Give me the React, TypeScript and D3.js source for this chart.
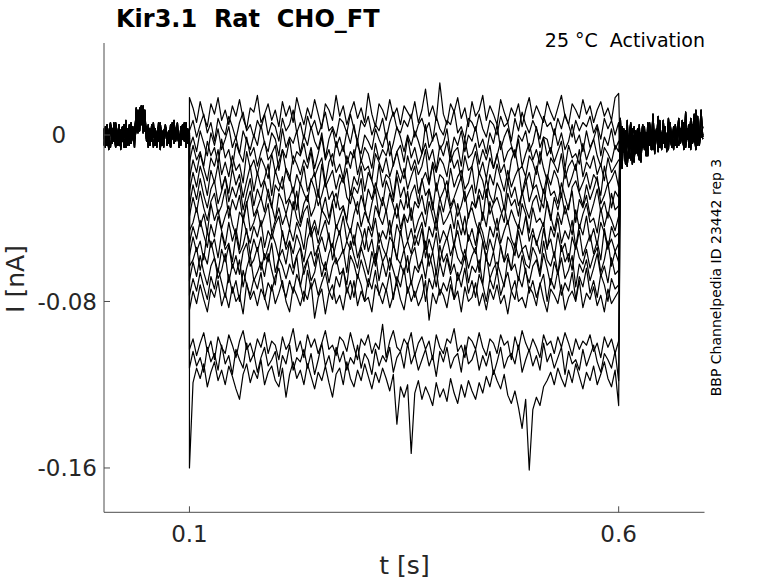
import * as d3 from "d3";

// protocol windows, seconds
const preWindow = [0, 0.1];
const stepWindow = [0.1, 0.6];
const postWindow = [0.602, 0.698];

// holding current before the step (pA), includes the small test pulse
const pre1 = [-2, 4, -5, 1, 6, -3, 2, -6, 0, 5, -4, 3, -1, 7, -5, 2, -2, 4, -6, 13, 3, 12, 5, 14, 2, 1, -4, 3, -2, 6, -5, 0, 4, -7, 2, -1, 5, -3, 1, -6, 3, 7, -2, 0, -5, 4, 1, -3, 6, -4, 0];
const pre2 = [3, -4, 1, -7, 5, 0, -3, 6, -1, -5, 2, 4, -6, 1, -2, 5, -4, 0, 3, 4, 11, 2, 14, 6, 12, -3, 2, -5, 5, -1, 3, -6, 1, 6, -3, -1, 4, -5, 2, -2, 6, -4, 0, 3, -6, 2, 5, -1, -4, 3, -1];
const pre3 = [-5, 1, 5, -2, -6, 3, 0, 4, -4, 2, -7, 1, 5, -3, 0, -5, 6, -1, 2, 10, 1, 13, 6, 11, 3, 4, -6, 0, -3, 4, 2, -5, 6, -2, 0, -6, 3, 1, -4, 5, -1, -3, 2, 6, -5, 1, -2, 4, -6, 2, 1];
const pre4 = [1, -6, 3, -2, 4, -4, 6, -1, -5, 2, 0, -3, 5, -6, 3, 1, -4, 2, -2, 2, 12, 7, 14, 1, 10, -2, 5, -4, 1, -6, 3, 0, -3, 5, -5, 2, 4, -2, 0, -6, 1, 5, -3, 3, -1, -5, 2, 6, -2, 1, -3];

// tail current after the step (pA)
const post1 = [-12, 4, -8, 2, -15, -3, 6, -10, 0, -6, 3, -11, -2, 5, -7, 1, -9, 4, -4, 10, -6, 2, -3, 5, -7, 0, 3, -5, 8, -2, -6, 4, -1, -4, 6, -3, 1, -7, 11, -2, 3, -5, 5, -1, -4, 9, -3, 2, -2];
const post2 = [-17, -5, 3, -13, -1, -9, 5, -14, -4, 2, -8, -12, 1, -6, 4, -10, -3, 6, -7, 0, -5, 3, -8, 2, -4, 7, -6, -1, 4, -3, 1, -7, 5, -2, -5, 3, -1, 6, -6, 2, -3, 8, -4, 0, -7, 4, -2, 12, -1];
const post3 = [-6, -16, 1, -9, 7, -11, -4, 3, -13, 0, -7, 5, -10, -2, 2, -8, 6, -5, -1, 4, -9, 1, -3, 7, -6, 2, -4, 0, -7, 5, -3, 3, -5, 1, 8, -4, 0, -6, 3, -2, 5, -7, 1, 10, -3, 4, -5, 2, 0];
const post4 = [8, -10, -4, -14, 2, -7, -12, 0, 4, -9, -5, 1, -13, 3, -6, -2, -10, 5, -4, -7, 2, -2, 9, -6, 1, -4, 4, -8, 0, 6, -5, 2, -3, -6, 4, -1, 7, -4, -2, 3, -6, 1, 5, -3, 12, -5, 3, -1, 4];

// current during the activation step (pA), one array per sweep
const sweep01 = [18, 13, 6, 16, 9, 4, 15, 10, 18, 7, 12, 5, 14, 9, 17, 8, 3, 13, 11, 19, 6, 10, 15, 7, 12, 4, 16, 9, 14, 6, 18, 11, 5, 13, 8, 17, 10, 3, 15, 12, 7, 19, 9, 14, 5, 11, 16, 8, 13, 6, 20, 10, 4, 15, 12, 7, 17, 9, 13, 5, 14, 11, 8, 16, 6, 12, 22, 9, 14, 7, 25, 10, 5, 15, 11, 18, 8, 13, 4, 16, 9, 12, 19, 7, 14, 10, 5, 17, 11, 6, 13, 9, 15, 4, 12, 18, 8, 14, 10, 6, 16, 11, 7, 13, 19, 9, 5, 15, 12, 8, 17, 10, 14, 6, 12, 16, 9, 13, 7, 18, 20];
const sweep02 = [2, 7, -1, 5, 10, 1, 6, -3, 8, 3, 0, 9, 4, -2, 6, 11, 2, 5, -1, 7, 3, 10, 0, 6, 4, -3, 8, 2, 5, 12, 1, 6, -2, 9, 3, 7, 0, 5, 11, 2, 4, -1, 8, 6, 1, 10, 3, -3, 7, 4, 9, 0, 5, 2, 8, -2, 6, 11, 3, 1, 7, 4, 10, -1, 5, 8, 2, 6, -3, 9, 3, 0, 7, 5, 12, 1, 4, -2, 8, 6, 2, 10, 3, -1, 7, 5, 0, 9, 4, 6, -3, 8, 2, 11, 5, 1, 7, 3, -2, 9, 4, 6, 0, 8, 3, 10, 5, -1, 7, 2, 6, 4, 9, 1, 5, -2, 8, 3, 7, 0, 6];
const sweep03 = [-6, -1, -8, 2, -4, -10, 1, -5, 3, -7, -2, 4, -6, -1, -9, 2, -3, -7, 0, -5, 5, -4, -8, 1, -2, -10, 3, -6, -1, -4, 2, -9, 0, -5, 4, -3, -7, 1, -11, -2, 3, -6, -1, -8, 2, -4, 5, -5, -9, 0, -3, -7, 3, -2, -6, 1, -10, -4, 4, -1, -8, 0, -5, 2, -3, -9, 5, -6, -2, 1, -7, -4, 3, -10, -1, -5, 2, -8, 0, -3, 4, -6, -2, -9, 1, -4, 5, -7, -1, 3, -5, -10, 0, -3, 2, -8, -4, 4, -6, -1, -2, -9, 3, -5, 1, -7, -3, 5, -4, 0, -8, 2, -6, -2, 4, -10, -1, -5, 3, -7, -3];
const sweep04 = [-13, -5, -12, -8, -15, -3, -10, -6, -14, -2, -11, -7, -16, -4, -9, -13, -1, -10, -6, -15, -8, -3, -12, -9, -5, -17, -7, -11, -2, -14, -8, -10, -4, -13, -6, -16, -9, -1, -12, -7, -15, -3, -10, -5, -14, -8, -11, -2, -13, -6, -9, -16, -4, -12, -7, -10, -3, -15, -8, -5, -13, -1, -11, -6, -14, -9, -4, -12, -7, -17, -5, -10, -3, -13, -8, -6, -15, -2, -11, -9, -4, -14, -7, -12, -5, -16, -10, -3, -13, -8, -6, -11, -2, -15, -9, -4, -12, -7, -14, -1, -10, -6, -13, -8, -3, -16, -5, -11, -9, -14, -4, -12, -7, -2, -10, -15, -6, -9, -13, -5, -8];
const sweep05 = [-21, -12, -18, -9, -16, -22, -11, -15, -7, -19, -13, -20, -10, -17, -14, -23, -8, -16, -12, -19, -11, -15, -21, -9, -18, -13, -7, -17, -22, -10, -14, -19, -12, -16, -8, -20, -15, -11, -23, -13, -9, -18, -14, -21, -10, -16, -7, -19, -12, -17, -15, -22, -9, -13, -18, -11, -20, -14, -8, -16, -21, -10, -17, -12, -19, -15, -7, -23, -13, -18, -11, -14, -20, -9, -16, -12, -22, -10, -17, -15, -8, -19, -13, -21, -11, -16, -9, -18, -14, -23, -12, -7, -17, -15, -20, -10, -13, -19, -8, -16, -22, -11, -14, -18, -9, -21, -15, -12, -17, -7, -20, -13, -16, -10, -19, -14, -22, -11, -18, -15, -12];
const sweep06 = [-27, -18, -25, -15, -21, -29, -17, -23, -14, -26, -20, -28, -16, -24, -19, -30, -22, -15, -27, -18, -25, -21, -14, -29, -17, -23, -26, -16, -20, -28, -19, -24, -15, -27, -22, -18, -30, -14, -25, -21, -17, -26, -19, -23, -16, -29, -20, -24, -15, -27, -18, -22, -28, -14, -25, -19, -21, -30, -17, -23, -16, -26, -20, -15, -28, -22, -18, -24, -14, -27, -19, -21, -29, -16, -25, -20, -17, -26, -23, -15, -28, -18, -22, -30, -19, -24, -14, -21, -27, -17, -25, -20, -16, -29, -23, -18, -26, -15, -22, -28, -19, -24, -17, -21, -30, -16, -25, -20, -14, -27, -23, -18, -26, -19, -22, -29, -15, -24, -21, -17, -25];
const sweep07 = [-34, -24, -31, -21, -29, -35, -26, -22, -33, -27, -20, -32, -25, -30, -23, -36, -28, -21, -34, -26, -31, -22, -29, -35, -24, -27, -20, -33, -30, -25, -36, -23, -28, -32, -21, -26, -34, -29, -22, -31, -27, -35, -24, -20, -30, -33, -25, -28, -21, -36, -26, -31, -23, -29, -34, -22, -27, -32, -20, -30, -25, -35, -28, -24, -33, -21, -29, -26, -36, -23, -31, -27, -22, -34, -30, -25, -20, -32, -28, -24, -35, -26, -31, -21, -29, -33, -23, -27, -36, -22, -30, -25, -34, -28, -20, -32, -26, -24, -31, -35, -21, -29, -27, -33, -23, -30, -36, -25, -22, -28, -34, -24, -31, -26, -20, -33, -29, -23, -35, -27, -30];
const sweep08 = [-39, -30, -37, -27, -35, -41, -32, -28, -38, -34, -26, -40, -31, -36, -29, -42, -33, -27, -39, -35, -30, -37, -26, -34, -41, -28, -32, -38, -31, -36, -27, -42, -33, -29, -39, -35, -26, -37, -30, -40, -32, -28, -36, -34, -41, -27, -31, -38, -29, -35, -42, -33, -26, -39, -30, -37, -28, -34, -40, -31, -36, -27, -41, -32, -35, -29, -38, -26, -33, -42, -30, -37, -28, -36, -31, -39, -34, -27, -40, -32, -35, -29, -41, -26, -38, -33, -30, -36, -42, -28, -34, -31, -39, -27, -35, -40, -32, -29, -37, -26, -33, -41, -30, -36, -28, -38, -34, -27, -42, -31, -35, -29, -39, -33, -26, -37, -32, -40, -28, -36, -34];
const sweep09 = [-46, -42, -35, -44, -38, -47, -33, -41, -36, -45, -39, -34, -43, -48, -37, -40, -32, -46, -42, -36, -44, -39, -33, -47, -41, -35, -43, -38, -45, -32, -40, -44, -37, -34, -46, -41, -48, -36, -39, -43, -33, -45, -40, -35, -42, -47, -38, -32, -44, -37, -41, -46, -34, -39, -43, -36, -48, -40, -33, -45, -38, -42, -35, -47, -41, -37, -44, -32, -39, -46, -34, -43, -40, -36, -45, -33, -41, -48, -38, -35, -42, -47, -37, -44, -32, -40, -46, -39, -34, -43, -36, -41, -45, -33, -38, -47, -35, -42, -40, -44, -32, -39, -46, -37, -43, -34, -41, -48, -36, -45, -38, -33, -42, -40, -47, -35, -44, -37, -41, -46, -39];
const sweep10 = [-52, -44, -50, -41, -48, -54, -43, -49, -39, -46, -53, -42, -51, -45, -55, -40, -47, -52, -44, -49, -41, -54, -46, -50, -43, -39, -48, -53, -45, -51, -42, -47, -55, -40, -49, -44, -52, -46, -41, -50, -54, -43, -48, -39, -51, -45, -53, -42, -47, -55, -44, -49, -40, -52, -46, -50, -41, -54, -43, -48, -39, -51, -45, -53, -47, -42, -55, -44, -49, -40, -52, -46, -50, -43, -54, -41, -48, -39, -51, -45, -53, -42, -47, -55, -44, -49, -40, -52, -46, -41, -50, -54, -43, -48, -39, -51, -45, -53, -47, -42, -55, -44, -49, -40, -52, -46, -50, -41, -54, -43, -48, -39, -51, -45, -53, -42, -47, -55, -44, -49, -47];
const sweep11 = [-58, -49, -56, -51, -60, -46, -54, -50, -59, -47, -55, -52, -61, -48, -57, -53, -45, -58, -50, -56, -49, -60, -54, -47, -52, -59, -46, -55, -51, -57, -48, -53, -61, -50, -45, -58, -54, -49, -56, -47, -60, -52, -46, -57, -51, -55, -48, -59, -53, -45, -56, -50, -61, -47, -54, -58, -49, -52, -60, -46, -55, -51, -57, -48, -53, -45, -59, -50, -56, -47, -61, -54, -49, -58, -52, -46, -55, -60, -48, -53, -57, -45, -51, -59, -50, -56, -47, -54, -61, -49, -52, -58, -46, -55, -53, -60, -48, -51, -57, -45, -54, -50, -59, -47, -56, -52, -61, -49, -55, -46, -58, -53, -48, -57, -51, -60, -45, -54, -50, -56, -52];
const sweep12 = [-63, -60, -54, -65, -57, -62, -51, -59, -66, -55, -61, -53, -64, -58, -67, -56, -52, -63, -60, -54, -65, -57, -61, -52, -66, -59, -55, -62, -51, -64, -58, -54, -67, -60, -56, -63, -53, -61, -65, -57, -52, -62, -59, -55, -66, -51, -58, -64, -54, -60, -67, -56, -63, -53, -61, -57, -65, -52, -59, -62, -55, -66, -58, -54, -64, -60, -51, -63, -56, -67, -53, -61, -57, -65, -52, -59, -62, -55, -64, -58, -54, -66, -51, -60, -63, -56, -67, -53, -61, -57, -65, -52, -59, -55, -62, -64, -54, -58, -66, -51, -60, -63, -56, -67, -53, -61, -57, -65, -52, -59, -62, -55, -64, -58, -54, -66, -60, -51, -63, -56, -61];
const sweep13 = [-70, -61, -68, -58, -66, -72, -63, -59, -69, -65, -57, -71, -62, -67, -60, -73, -64, -58, -70, -66, -61, -68, -57, -65, -72, -59, -63, -69, -62, -67, -58, -73, -64, -60, -70, -66, -57, -68, -61, -71, -63, -59, -67, -65, -72, -58, -62, -69, -60, -66, -73, -64, -57, -70, -61, -68, -59, -65, -71, -62, -67, -58, -72, -63, -66, -60, -69, -57, -64, -73, -61, -68, -59, -67, -62, -70, -65, -58, -71, -63, -66, -60, -72, -57, -69, -64, -61, -67, -73, -59, -65, -62, -70, -58, -66, -71, -63, -60, -68, -57, -64, -72, -61, -67, -59, -69, -65, -58, -73, -62, -66, -60, -70, -64, -57, -68, -63, -71, -59, -67, -65];
const sweep14 = [-77, -69, -75, -66, -73, -79, -68, -74, -64, -71, -78, -67, -76, -70, -80, -65, -72, -77, -69, -74, -66, -79, -71, -75, -68, -64, -73, -78, -70, -76, -67, -72, -80, -65, -74, -69, -77, -71, -66, -75, -79, -68, -73, -64, -76, -70, -78, -67, -72, -80, -69, -74, -65, -77, -71, -75, -66, -79, -68, -73, -64, -76, -70, -78, -72, -67, -80, -69, -74, -65, -77, -71, -75, -68, -79, -66, -73, -64, -76, -70, -78, -67, -72, -80, -69, -74, -65, -77, -71, -66, -75, -79, -68, -73, -64, -76, -70, -78, -72, -67, -80, -69, -74, -65, -77, -71, -75, -66, -79, -68, -73, -64, -76, -70, -78, -67, -72, -80, -69, -74, -72];
const sweep15 = [-84, -75, -81, -72, -79, -85, -74, -78, -70, -82, -76, -83, -73, -80, -77, -86, -71, -79, -75, -82, -74, -78, -84, -72, -81, -76, -70, -80, -85, -73, -77, -82, -75, -79, -71, -88, -78, -74, -86, -76, -72, -81, -77, -84, -73, -79, -70, -82, -75, -80, -78, -85, -72, -76, -81, -74, -83, -77, -71, -79, -84, -73, -80, -75, -82, -78, -70, -89, -76, -81, -74, -77, -83, -72, -79, -75, -85, -73, -80, -78, -71, -82, -76, -84, -74, -79, -72, -81, -77, -86, -75, -70, -80, -78, -83, -73, -76, -82, -71, -79, -85, -74, -77, -81, -72, -84, -78, -75, -80, -70, -83, -76, -79, -73, -82, -77, -85, -74, -81, -78, -75];
const sweep16 = [-103, -98, -106, -100, -95, -104, -99, -108, -97, -102, -105, -96, -101, -107, -99, -94, -103, -100, -106, -98, -102, -95, -105, -99, -101, -108, -97, -103, -100, -93, -104, -99, -107, -96, -102, -98, -105, -100, -94, -103, -101, -106, -97, -99, -104, -95, -102, -108, -98, -101, -96, -105, -100, -103, -91, -107, -99, -94, -102, -104, -98, -101, -95, -106, -100, -97, -103, -99, -108, -96, -102, -105, -98, -100, -93, -104, -101, -107, -97, -99, -103, -95, -102, -106, -98, -100, -105, -96, -101, -99, -108, -97, -103, -94, -100, -104, -98, -102, -107, -96, -101, -99, -105, -97, -102, -95, -100, -106, -98, -103, -99, -101, -96, -104, -100, -107, -97, -102, -98, -105, -99];
const sweep17 = [-112, -104, -111, -107, -114, -102, -109, -105, -113, -101, -110, -106, -115, -103, -108, -112, -100, -109, -105, -114, -107, -102, -111, -108, -104, -116, -106, -110, -101, -113, -107, -109, -103, -112, -105, -115, -108, -100, -111, -106, -114, -102, -109, -104, -113, -107, -110, -101, -112, -105, -108, -115, -103, -111, -106, -109, -102, -114, -107, -104, -112, -100, -110, -105, -113, -108, -103, -111, -106, -116, -104, -109, -102, -112, -107, -105, -114, -101, -110, -108, -103, -113, -106, -111, -104, -115, -109, -102, -112, -107, -105, -110, -101, -114, -108, -103, -111, -106, -113, -100, -109, -105, -112, -107, -102, -115, -104, -110, -108, -113, -103, -111, -106, -101, -109, -114, -105, -108, -112, -104, -118];
const sweep18 = [-160, -119, -112, -117, -110, -121, -114, -109, -118, -113, -120, -111, -116, -122, -127, -115, -110, -119, -113, -117, -108, -120, -114, -111, -118, -121, -112, -126, -115, -109, -117, -113, -120, -110, -116, -122, -114, -118, -111, -119, -126, -115, -112, -120, -109, -117, -121, -113, -118, -110, -116, -122, -114, -119, -112, -117, -123, -115, -139, -121, -126, -120, -153, -124, -118, -127, -121, -125, -130, -119, -126, -122, -128, -117, -124, -129, -120, -126, -118, -123, -127, -119, -124, -116, -121, -113, -118, -122, -115, -125, -129, -123, -131, -141, -127, -161, -132, -126, -130, -121, -118, -114, -120, -112, -117, -121, -113, -119, -110, -116, -122, -114, -118, -111, -120, -115, -109, -117, -121, -113, -130];

const stepSweeps = [
  sweep01, sweep02, sweep03, sweep04, sweep05, sweep06, sweep07, sweep08, sweep09,
  sweep10, sweep11, sweep12, sweep13, sweep14, sweep15, sweep16, sweep17, sweep18,
];
const preTraces = [pre1, pre2, pre3, pre4];
const postTraces = [post1, post2, post3, post4];

const xTicks = [0.1, 0.6];
const xTickLabels = ["0.1", "0.6"];
const yTicks = [0, -0.08, -0.16];
const yTickLabels = ["0", "-0.08", "-0.16"];

const App: React.FC = () => {
  const left = 104;
  const right = 704.5;
  const top = 43;
  const bottom = 512.3;

  const x = d3.scaleLinear().domain([0, 0.7]).range([103.6, 704.5]);
  const y = d3.scaleLinear().domain([-0.1813, 0.0442]).range([bottom, top]);

  // spread samples evenly over a time window, pA -> nA
  const spread = (vals: number[], win: number[]) =>
    vals.map((v, i) => [win[0] + (i * (win[1] - win[0])) / (vals.length - 1), v / 1000] as [number, number]);

  const line = d3
    .line<[number, number]>()
    .x((d) => x(d[0]))
    .y((d) => y(d[1]));

  const paths = stepSweeps.map((s, k) =>
    line([
      ...spread(preTraces[k % 4], preWindow),
      ...spread(s, stepWindow),
      ...spread(postTraces[k % 4], postWindow),
    ])
  );

  const font = "DejaVu Sans";
  const axisColor = "#4d4d4d";
  const textColor = "#262626";

  return (
    <div style={{ position: "absolute", left: 0, top: 0 }}>
      <svg width={778} height={583} style={{ display: "block", background: "#fff" }}>
        <g fill="none" stroke="#000" strokeWidth={1.2} strokeLinejoin="round">
          {paths.map((d, i) => (
            <path key={i} d={d ?? ""} />
          ))}
        </g>

        {/* axes */}
        <line x1={left} x2={left} y1={top} y2={bottom} stroke={axisColor} />
        <line x1={left} x2={right} y1={bottom} y2={bottom} stroke={axisColor} />
        {yTicks.map((t) => (
          <line key={t} x1={left} x2={left + 6} y1={y(t)} y2={y(t)} stroke={axisColor} />
        ))}
        {xTicks.map((t) => (
          <line key={t} x1={x(t)} x2={x(t)} y1={bottom} y2={bottom - 6} stroke={axisColor} />
        ))}

        <g fontFamily={font} fill={textColor} fontSize={23}>
          {yTicks.map((t, i) => (
            <text
              key={t}
              x={yTickLabels[i] === "0" ? 58.7 : 97}
              y={y(t) + 8.4}
              textAnchor={yTickLabels[i] === "0" ? "middle" : "end"}
            >
              {yTickLabels[i]}
            </text>
          ))}
          {xTicks.map((t, i) => (
            <text key={t} x={x(t)} y={542.3} textAnchor="middle">
              {xTickLabels[i]}
            </text>
          ))}
        </g>

        <text x={404.5} y={574} textAnchor="middle" fontFamily={font} fontSize={25} fill={textColor}>
          t [s]
        </text>
        <text
          transform="translate(24.4,279) rotate(-90)"
          textAnchor="middle"
          fontFamily={font}
          fontSize={25}
          fill={textColor}
        >
          I [nA]
        </text>

        <text x={116} y={26.5} fontFamily={font} fontSize={24} fontWeight="bold" fill="#000" style={{ whiteSpace: "pre" }}>
          Kir3.1  Rat  CHO_FT
        </text>
        <text x={705} y={47.3} textAnchor="end" fontFamily={font} fontSize={19} fill="#000" style={{ whiteSpace: "pre" }}>
          25 °C  Activation
        </text>
        <text
          transform="translate(720.5,277.5) rotate(-90)"
          textAnchor="middle"
          fontFamily={font}
          fontSize={14}
          fill="#000"
        >
          BBP Channelpedia ID 23442 rep 3
        </text>
      </svg>
    </div>
  );
};

export default App;
